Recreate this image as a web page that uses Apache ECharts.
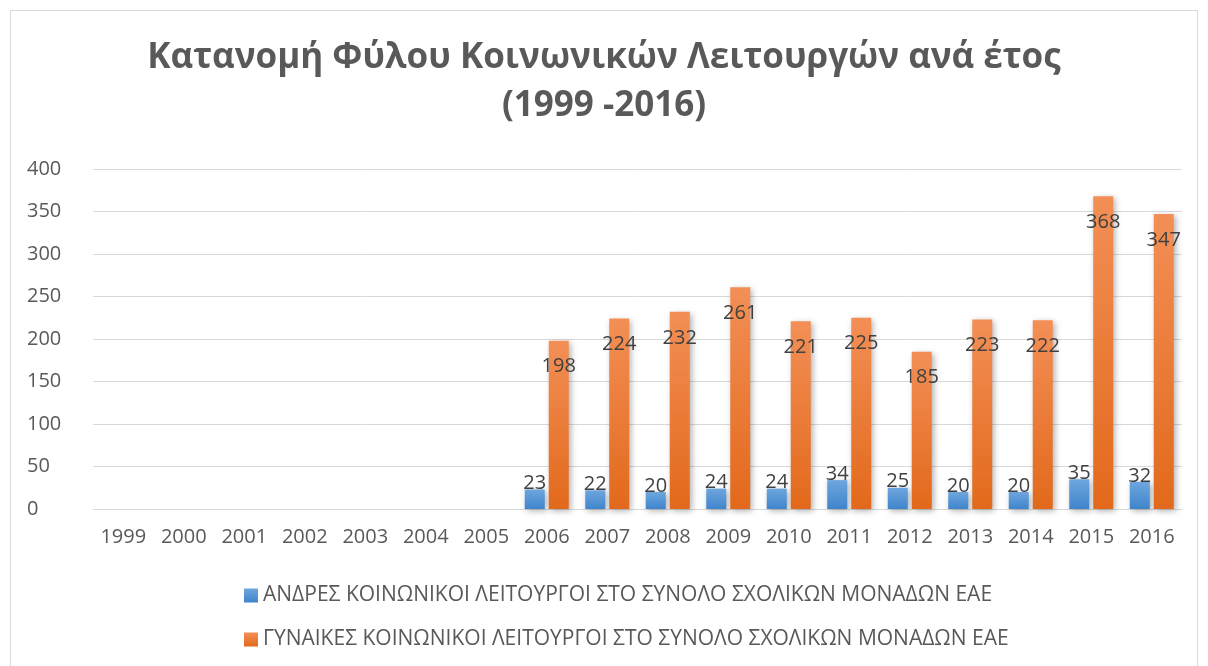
<!DOCTYPE html>
<html>
<head>
<meta charset="utf-8">
<script src="https://cdn.jsdelivr.net/npm/echarts@6/dist/echarts.min.js"></script>
<style>
  html, body { margin: 0; padding: 0; background: #fff; }
  #chart { width: 1208px; height: 666px; }
</style>
</head>
<body>
<div id="chart"></div>
<script>
const years = ['1999', '2000', '2001', '2002', '2003', '2004', '2005', '2006', '2007', '2008',
  '2009', '2010', '2011', '2012', '2013', '2014', '2015', '2016'];
const men = [null, null, null, null, null, null, null, 23, 22, 20, 24, 24, 34, 25, 20, 20, 35, 32];
const women = [null, null, null, null, null, null, null, 198, 224, 232, 261, 221, 225, 185, 223, 222, 368, 347];
const menName = 'ΑΝΔΡΕΣ ΚΟΙΝΩΝΙΚΟΙ ΛΕΙΤΟΥΡΓΟΙ ΣΤΟ ΣΥΝΟΛΟ ΣΧΟΛΙΚΩΝ ΜΟΝΑΔΩΝ ΕΑΕ';
const womenName = 'ΓΥΝΑΙΚΕΣ ΚΟΙΝΩΝΙΚΟΙ ΛΕΙΤΟΥΡΓΟΙ ΣΤΟ ΣΥΝΟΛΟ ΣΧΟΛΙΚΩΝ ΜΟΝΑΔΩΝ ΕΑΕ';

const font = '"Open Sans", "Noto Sans", sans-serif';
const grey = '#595959';

const grad = (top, bottom) => new echarts.graphic.LinearGradient(0, 0, 0, 1, [
  { offset: 0, color: top }, { offset: 1, color: bottom }
]);

const chart = echarts.init(document.getElementById('chart'));
chart.setOption({
  backgroundColor: '#fff',
  textStyle: { fontFamily: font },
  title: {
    text: 'Κατανομή Φύλου Κοινωνικών Λειτουργών ανά έτος\n(1999 -2016)',
    left: 'center',
    top: 29,
    padding: [5, 5, 5, 25],
    textStyle: { fontSize: 35, fontWeight: 'bold', color: grey, lineHeight: 48, fontFamily: font }
  },
  graphic: [{
    type: 'rect',
    shape: { x: 10.5, y: 10.5, width: 1187, height: 670 },
    style: { fill: 'none', stroke: '#d9d9d9', lineWidth: 1 },
    silent: true
  }],
  legend: {
    orient: 'vertical',
    left: 239,
    top: 580,
    itemWidth: 14,
    itemHeight: 14,
    itemGap: 23,
    icon: 'rect',
    textStyle: { fontSize: 21, color: grey, fontFamily: font }
  },
  grid: { left: 93, right: 26, top: 169, bottom: 157, containLabel: false },
  xAxis: {
    type: 'category',
    data: years,
    axisLine: { lineStyle: { color: '#d9d9d9', width: 1 } },
    axisTick: { show: false },
    axisLabel: { fontSize: 20, color: grey, margin: 18 }
  },
  yAxis: {
    type: 'value',
    min: 0,
    max: 400,
    interval: 50,
    axisLine: { show: false },
    axisTick: { show: false },
    splitLine: { lineStyle: { color: '#d9d9d9', width: 1 } },
    axisLabel: { fontSize: 20, color: grey, margin: 66, align: 'left' }
  },
  series: [
    {
      name: menName,
      type: 'bar',
      data: men,
      barWidth: 20,
      barGap: '20%',
      itemStyle: {
        color: grad('#6ea6de', '#3f85cc'),
        shadowBlur: 6, shadowColor: 'rgba(0,0,0,0.3)', shadowOffsetX: 2, shadowOffsetY: 2
      },
      label: { show: true, position: 'top', distance: -4, fontSize: 20, color: '#404040' }
    },
    {
      name: womenName,
      type: 'bar',
      data: women,
      barWidth: 20,
      itemStyle: {
        color: grad('#f38f56', '#e2691b'),
        shadowBlur: 6, shadowColor: 'rgba(0,0,0,0.3)', shadowOffsetX: 2, shadowOffsetY: 2
      },
      label: { show: true, position: 'insideTop', distance: 16, fontSize: 20, color: '#404040' }
    }
  ]
});
</script>
</body>
</html>
